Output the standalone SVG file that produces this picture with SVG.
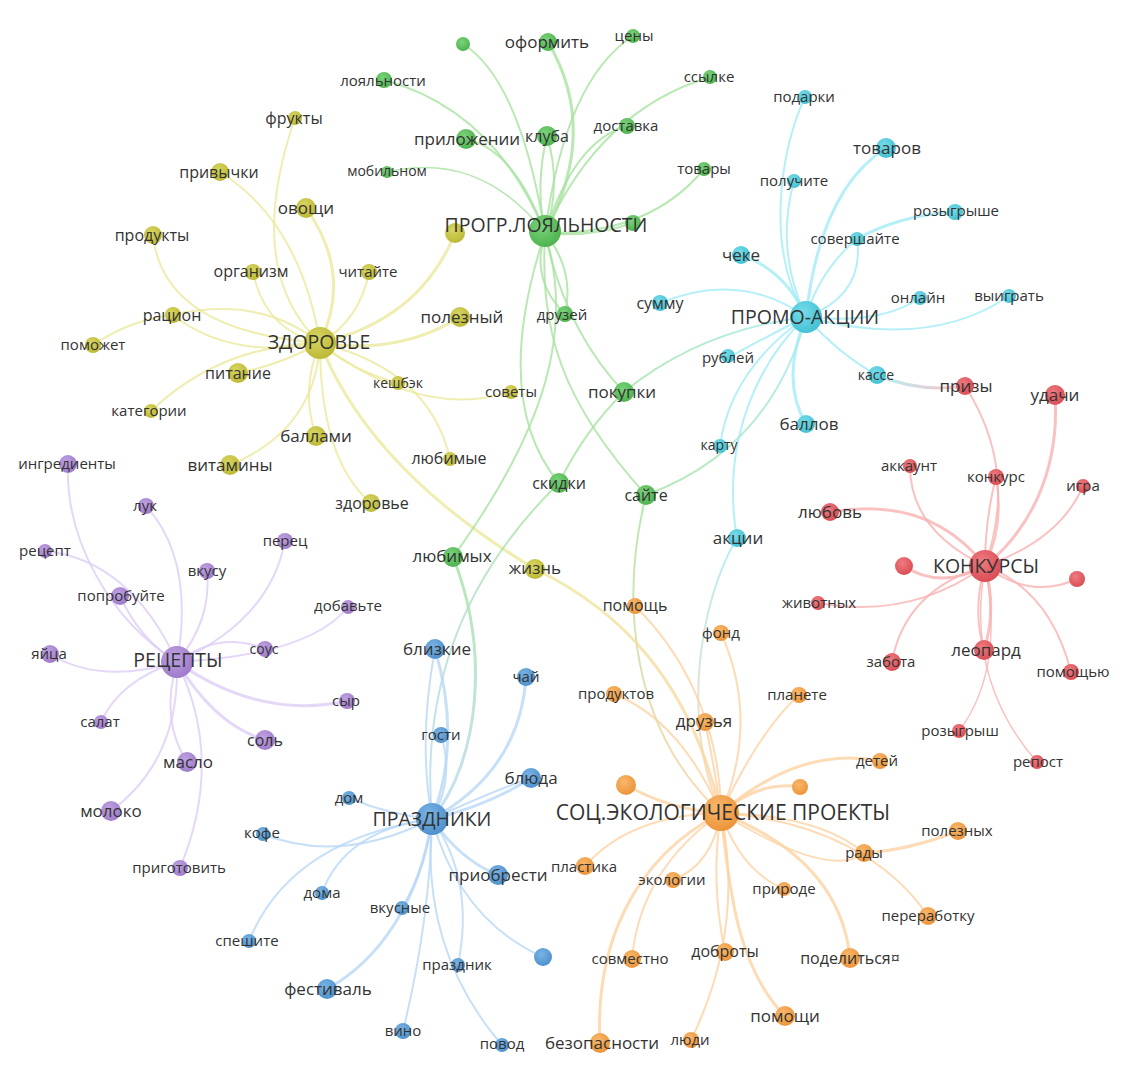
<svg xmlns="http://www.w3.org/2000/svg" width="1134" height="1070" viewBox="0 0 1134 1070">
<style>
text{font-family:"Open Sans","Noto Sans","Liberation Sans",sans-serif;fill:#333;text-anchor:middle}
.f14{font-size:14px}.f15{font-size:15px}.f16{font-size:16px}.f17{font-size:17px}.f20{font-size:19.5px}.f21{font-size:21px}
path{fill:none;stroke-width:2;stroke-opacity:.8;stroke-linecap:round}
.eg{stroke:#a8e2a0}.ey{stroke:#ebe89c}.ec{stroke:#a3ebf5}.er{stroke:#f9b2b2}.ep{stroke:#dfcdf6}.eb{stroke:#b9d8f6}.eo{stroke:#fdd2a2}
.w3{stroke-width:3}.w1{stroke-width:1.5}
.g{fill:url(#rg)}.y{fill:url(#ry)}.c{fill:url(#rc)}.r{fill:url(#rr)}.p{fill:url(#rp)}.b{fill:url(#rb)}.o{fill:url(#ro)}
</style>
<defs>
<radialGradient id="rg" cx="40%" cy="35%" r="70%"><stop offset="0" stop-color="#7ad27a"/><stop offset="1" stop-color="#4cb24c"/></radialGradient>
<radialGradient id="ry" cx="40%" cy="35%" r="70%"><stop offset="0" stop-color="#d8d562"/><stop offset="1" stop-color="#bbb733"/></radialGradient>
<radialGradient id="rc" cx="40%" cy="35%" r="70%"><stop offset="0" stop-color="#76dbe8"/><stop offset="1" stop-color="#40c0d3"/></radialGradient>
<radialGradient id="rr" cx="40%" cy="35%" r="70%"><stop offset="0" stop-color="#ee7b80"/><stop offset="1" stop-color="#d94a52"/></radialGradient>
<radialGradient id="rp" cx="40%" cy="35%" r="70%"><stop offset="0" stop-color="#bfa2e2"/><stop offset="1" stop-color="#9d78c8"/></radialGradient>
<radialGradient id="rb" cx="40%" cy="35%" r="70%"><stop offset="0" stop-color="#7ab3e4"/><stop offset="1" stop-color="#4a8fcc"/></radialGradient>
<radialGradient id="ro" cx="40%" cy="35%" r="70%"><stop offset="0" stop-color="#f8b86c"/><stop offset="1" stop-color="#ec9236"/></radialGradient>
<linearGradient id="x1" gradientUnits="userSpaceOnUse" x1="624" y1="392" x2="806" y2="317"><stop offset="0" stop-color="#a8e2a0"/><stop offset="1" stop-color="#a3ebf5"/></linearGradient>
<linearGradient id="x2" gradientUnits="userSpaceOnUse" x1="646" y1="495" x2="806" y2="317"><stop offset="0" stop-color="#a8e2a0"/><stop offset="1" stop-color="#a3ebf5"/></linearGradient>
<linearGradient id="x3" gradientUnits="userSpaceOnUse" x1="453" y1="557" x2="432" y2="819"><stop offset="0" stop-color="#a8e2a0"/><stop offset="1" stop-color="#b9d8f6"/></linearGradient>
<linearGradient id="x4" gradientUnits="userSpaceOnUse" x1="559" y1="483" x2="432" y2="819"><stop offset="0" stop-color="#a8e2a0"/><stop offset="1" stop-color="#b9d8f6"/></linearGradient>
<linearGradient id="x5" gradientUnits="userSpaceOnUse" x1="646" y1="495" x2="721" y2="813"><stop offset="0" stop-color="#a8e2a0"/><stop offset="1" stop-color="#fdd2a2"/></linearGradient>
<linearGradient id="x6" gradientUnits="userSpaceOnUse" x1="737" y1="538" x2="721" y2="813"><stop offset="0" stop-color="#a3ebf5"/><stop offset="1" stop-color="#fdd2a2"/></linearGradient>
<linearGradient id="x7" gradientUnits="userSpaceOnUse" x1="535" y1="569" x2="721" y2="813"><stop offset="0" stop-color="#ebe89c"/><stop offset="1" stop-color="#fdd2a2"/></linearGradient>
<linearGradient id="x8" gradientUnits="userSpaceOnUse" x1="877" y1="375" x2="965" y2="386"><stop offset="0" stop-color="#a3ebf5"/><stop offset="1" stop-color="#f9b2b2"/></linearGradient>
</defs>
<rect width="1134" height="1070" fill="#fff"/>
<g id="connectors">
<!-- yellow -->
<path class="ey" d="M295,118 Q243,270 320,343"/>
<path class="ey" d="M220,172 Q300,222 320,343"/>
<path class="ey w3" d="M306,208 Q353,274 320,343"/>
<path class="ey" d="M153,235 Q163,331 320,343"/>
<path class="ey" d="M253,272 Q265,330 320,343"/>
<path class="ey" d="M369,272 Q360,320 320,343"/>
<path class="ey" d="M173,315 Q260,295 320,343"/>
<path class="ey" d="M173,315 Q230,360 320,343"/>
<path class="ey" d="M93,345 Q130,320 173,315"/>
<path class="ey w3" d="M455,233 Q420,320 320,343"/>
<path class="ey w3" d="M460,317 Q400,355 320,343"/>
<path class="ey" d="M238,373 Q280,365 320,343"/>
<path class="ey" d="M398,383 Q350,370 320,343"/>
<path class="ey" d="M320,343 Q420,420 511,392"/>
<path class="ey" d="M320,343 Q430,370 450,459"/>
<path class="ey" d="M320,343 Q320,460 371,503"/>
<path class="ey" d="M320,343 Q300,390 316,436"/>
<path class="ey" d="M320,343 Q315,430 230,465"/>
<path class="ey" d="M320,343 Q220,345 151,411"/>
<path class="ey w3" d="M320,343 Q370,470 535,569"/>
<!-- green -->
<path class="eg" d="M463,44 Q520,80 545,233"/>
<path class="eg w3" d="M548,42 Q600,130 545,233"/>
<path class="eg" d="M633,36 Q565,80 545,233"/>
<path class="eg" d="M384,80 Q495,110 545,233"/>
<path class="eg" d="M710,77 Q600,110 545,233"/>
<path class="eg" d="M627,126 Q575,140 545,233"/>
<path class="eg" d="M466,139 Q515,150 545,233"/>
<path class="eg" d="M547,136 Q535,185 545,233"/>
<path class="eg" d="M547,136 Q562,185 545,233"/>
<path class="eg w1" d="M387,172 Q480,150 545,233"/>
<path class="eg" d="M704,169 Q650,235 545,233"/>
<path class="eg" d="M633,223 Q590,238 545,233"/>
<path class="eg" d="M545,233 Q530,280 565,314"/>
<path class="eg" d="M545,233 Q575,270 565,314"/>
<path class="eg" d="M545,233 Q565,330 624,392"/>
<path class="eg" d="M545,233 Q490,400 559,483"/>
<path class="eg" d="M545,233 C575,330 545,430 453,557"/>
<path class="eg" d="M545,233 C540,330 560,400 646,495"/>
<path class="eg" d="M624,392 Q585,430 559,483"/>
<!-- cross -->
<path stroke="url(#x1)" d="M624,392 Q700,330 806,317"/>
<path stroke="url(#x2)" d="M646,495 Q770,450 806,317"/>
<path stroke="url(#x3)" class="w3" d="M453,557 C490,650 480,760 432,819"/>
<path stroke="url(#x4)" d="M559,483 C470,570 420,680 432,819"/>
<path stroke="url(#x5)" d="M646,495 C620,600 630,730 721,813"/>
<path stroke="url(#x6)" d="M737,538 C700,600 680,720 721,813"/>
<path stroke="url(#x7)" class="w3" d="M535,569 C620,610 690,680 721,813"/>
<path stroke="url(#x8)" class="w3" d="M877,375 Q920,393 965,386"/>
<!-- cyan -->
<path class="ec" d="M805,97 C780,150 765,250 806,317"/>
<path class="ec" d="M794,181 Q775,250 806,317"/>
<path class="ec w3" d="M886,148 Q820,190 806,317"/>
<path class="ec w3" d="M955,212 Q900,215 857,239"/>
<path class="ec" d="M857,239 Q820,270 806,317"/>
<path class="ec" d="M857,239 Q865,295 806,317"/>
<path class="ec" d="M920,298 Q880,325 806,317"/>
<path class="ec" d="M1009,296 Q930,350 806,317"/>
<path class="ec w3" d="M741,255 Q785,270 806,317"/>
<path class="ec" d="M660,303 Q740,270 806,317"/>
<path class="ec" d="M806,317 Q760,340 728,358"/>
<path class="ec" d="M806,317 Q840,355 877,375"/>
<path class="ec w3" d="M806,317 Q780,380 806,424"/>
<path class="ec" d="M806,317 Q730,370 720,446"/>
<path class="ec" d="M806,317 C760,360 720,440 737,538"/>
<!-- red -->
<path class="er" d="M965,386 C1000,440 1008,500 985,566"/>
<path class="er" d="M996,477 Q985,520 985,566"/>
<path class="er" d="M996,477 Q1005,525 985,566"/>
<path class="er w3" d="M1055,395 C1060,470 1030,530 985,566"/>
<path class="er" d="M1083,486 Q1060,540 985,566"/>
<path class="er" d="M910,466 Q910,530 985,566"/>
<path class="er w3" d="M830,512 Q930,495 985,566"/>
<path class="er w3" d="M904,566 Q940,590 985,566"/>
<path class="er" d="M1077,579 Q1030,600 985,566"/>
<path class="er" d="M818,603 Q910,620 985,566"/>
<path class="er" d="M892,662 Q905,590 985,566"/>
<path class="er w3" d="M984,650 Q997,610 985,566"/>
<path class="er" d="M984,650 Q972,610 985,566"/>
<path class="er" d="M1071,672 Q1050,590 985,566"/>
<path class="er w1" d="M985,566 Q1005,670 959,731"/>
<path class="er w1" d="M985,566 Q965,680 1037,762"/>
<!-- purple -->
<path class="ep" d="M68,464 C65,540 110,620 177,662"/>
<path class="ep" d="M146,506 Q195,560 177,662"/>
<path class="ep" d="M45,551 Q130,560 177,662"/>
<path class="ep" d="M120,596 Q140,640 177,662"/>
<path class="ep" d="M207,571 Q212,620 177,662"/>
<path class="ep" d="M285,541 Q270,620 177,662"/>
<path class="ep" d="M348,607 Q310,655 177,662"/>
<path class="ep" d="M265,649 Q220,630 177,662"/>
<path class="ep" d="M50,654 Q100,685 177,662"/>
<path class="ep w3" d="M347,701 Q260,720 177,662"/>
<path class="ep" d="M101,722 Q120,680 177,662"/>
<path class="ep w3" d="M265,740 Q215,725 177,662"/>
<path class="ep" d="M187,762 Q160,720 177,662"/>
<path class="ep" d="M111,811 Q180,760 177,662"/>
<path class="ep" d="M180,868 Q225,760 177,662"/>
<!-- blue -->
<path class="eb" d="M435,649 Q418,740 432,819"/>
<path class="eb w3" d="M435,649 Q462,740 432,819"/>
<path class="eb w3" d="M526,677 Q520,770 432,819"/>
<path class="eb" d="M441,735 Q455,780 432,819"/>
<path class="eb w3" d="M531,778 Q490,805 432,819"/>
<path class="eb" d="M531,778 Q495,790 432,819"/>
<path class="eb" d="M349,798 Q390,815 432,819"/>
<path class="eb" d="M263,834 Q340,865 432,819"/>
<path class="eb" d="M322,893 Q345,830 432,819"/>
<path class="eb" d="M249,941 Q290,840 432,819"/>
<path class="eb" d="M402,908 Q425,870 432,819"/>
<path class="eb w3" d="M327,989 C380,960 420,900 432,819"/>
<path class="eb w3" d="M498,875 Q460,860 432,819"/>
<path class="eb" d="M543,957 Q460,920 432,819"/>
<path class="eb" d="M458,965 Q475,880 432,819"/>
<path class="eb" d="M403,1031 Q430,920 432,819"/>
<path class="eb" d="M502,1045 Q420,950 432,819"/>
<!-- orange -->
<path class="eo" d="M635,606 C680,650 720,720 721,813"/>
<path class="eo" d="M721,633 Q760,720 721,813"/>
<path class="eo" d="M614,694 Q680,720 721,813"/>
<path class="eo" d="M799,695 Q760,730 721,813"/>
<path class="eo" d="M705,722 Q715,770 721,813"/>
<path class="eo w3" d="M880,761 Q800,745 721,813"/>
<path class="eo w3" d="M800,787 Q760,780 721,813"/>
<path class="eo w3" d="M626,785 Q670,810 721,813"/>
<path class="eo" d="M721,813 Q830,880 864,853"/>
<path class="eo" d="M721,813 Q820,815 864,853"/>
<path class="eo w3" d="M864,853 Q910,850 958,831"/>
<path class="eo" d="M721,813 C820,820 890,860 928,916"/>
<path class="eo w3" d="M721,813 Q840,860 850,958"/>
<path class="eo" d="M721,813 Q740,870 784,889"/>
<path class="eo w3" d="M721,813 C730,900 740,970 785,1016"/>
<path class="eo" d="M721,813 Q710,880 725,952"/>
<path class="eo" d="M721,813 Q745,930 691,1040"/>
<path class="eo w3" d="M600,1043 C595,950 630,860 721,813"/>
<path class="eo" d="M632,959 Q640,870 721,813"/>
<path class="eo" d="M673,880 Q712,865 721,813"/>
<path class="eo" d="M585,866 Q630,815 721,813"/>
</g>
<!-- unlabeled nodes -->
<g id="n-g-dot1"><circle class="g" cx="463" cy="44" r="7"/></g>
<g id="n-g-dot2"><circle class="g" cx="633" cy="223" r="8"/></g>
<g id="n-y-dot1"><circle class="y" cx="455" cy="233" r="10"/></g>
<g id="n-r-dot1"><circle class="r" cx="904" cy="566" r="9"/></g>
<g id="n-r-dot2"><circle class="r" cx="1077" cy="579" r="8"/></g>
<g id="n-b-dot1"><circle class="b" cx="543" cy="957" r="9"/></g>
<g id="n-o-dot1"><circle class="o" cx="626" cy="785" r="10"/></g>
<g id="n-o-dot2"><circle class="o" cx="800" cy="787" r="8"/></g>
<!-- green -->
<g id="n-oformit"><circle class="g" cx="548" cy="42" r="9"/><text class="f17" x="547" y="48">оформить</text></g>
<g id="n-ceny"><circle class="g" cx="633" cy="36" r="7"/><text class="f15" x="634" y="41">цены</text></g>
<g id="n-loyalnosti"><circle class="g" cx="384" cy="80" r="8"/><text class="f15" x="383" y="86">лояльности</text></g>
<g id="n-ssylke"><circle class="g" cx="710" cy="77" r="7"/><text class="f15" x="709" y="82">ссылке</text></g>
<g id="n-prilozhenii"><circle class="g" cx="466" cy="139" r="10"/><text class="f17" x="467" y="145">приложении</text></g>
<g id="n-kluba"><circle class="g" cx="547" cy="136" r="10"/><text class="f16" x="547" y="142">клуба</text></g>
<g id="n-dostavka"><circle class="g" cx="627" cy="126" r="8"/><text class="f15" x="626" y="131">доставка</text></g>
<g id="n-mobilnom"><circle class="g" cx="387" cy="172" r="6"/><text class="f14" x="387" y="176">мобильном</text></g>
<g id="n-tovary"><circle class="g" cx="704" cy="169" r="7"/><text class="f15" x="704" y="174">товары</text></g>
<g id="n-druzey"><circle class="g" cx="565" cy="314" r="8"/><text class="f15" x="562" y="320">друзей</text></g>
<g id="n-pokupki"><circle class="g" cx="624" cy="392" r="10"/><text class="f17" x="622" y="398">покупки</text></g>
<g id="n-skidki"><circle class="g" cx="559" cy="483" r="10"/><text class="f16" x="559" y="489">скидки</text></g>
<g id="n-sayte"><circle class="g" cx="646" cy="495" r="10"/><text class="f16" x="646" y="501">сайте</text></g>
<g id="n-lyubimyh"><circle class="g" cx="453" cy="557" r="10"/><text class="f17" x="452" y="562">любимых</text></g>
<g id="n-progr"><circle class="g" cx="545" cy="231" r="16"/><text class="f20" x="546" y="232">ПРОГР.ЛОЯЛЬНОСТИ</text></g>
<!-- yellow -->
<g id="n-frukty"><circle class="y" cx="295" cy="118" r="7"/><text class="f16" x="294" y="124">фрукты</text></g>
<g id="n-privychki"><circle class="y" cx="220" cy="172" r="9"/><text class="f16" x="219" y="178">привычки</text></g>
<g id="n-ovoshchi"><circle class="y" cx="306" cy="208" r="10"/><text class="f17" x="306" y="214">овощи</text></g>
<g id="n-produkty"><circle class="y" cx="153" cy="235" r="9"/><text class="f16" x="152" y="241">продукты</text></g>
<g id="n-organizm"><circle class="y" cx="253" cy="272" r="8"/><text class="f16" x="251" y="277">организм</text></g>
<g id="n-chitayte"><circle class="y" cx="369" cy="272" r="8"/><text class="f15" x="368" y="277">читайте</text></g>
<g id="n-racion"><circle class="y" cx="173" cy="315" r="8"/><text class="f16" x="172" y="321">рацион</text></g>
<g id="n-pomozhet"><circle class="y" cx="93" cy="345" r="8"/><text class="f15" x="93" y="350">поможет</text></g>
<g id="n-polezny"><circle class="y" cx="460" cy="317" r="10"/><text class="f17" x="462" y="323">полезный</text></g>
<g id="n-pitanie"><circle class="y" cx="238" cy="373" r="10"/><text class="f16" x="238" y="379">питание</text></g>
<g id="n-keshbek"><circle class="y" cx="398" cy="383" r="7"/><text class="f14" x="398" y="388">кешбэк</text></g>
<g id="n-sovety"><circle class="y" cx="511" cy="392" r="7"/><text class="f15" x="511" y="397">советы</text></g>
<g id="n-kategorii"><circle class="y" cx="151" cy="411" r="7"/><text class="f15" x="149" y="416">категории</text></g>
<g id="n-ballami"><circle class="y" cx="316" cy="436" r="10"/><text class="f17" x="316" y="442">баллами</text></g>
<g id="n-lyubimye"><circle class="y" cx="450" cy="459" r="7"/><text class="f16" x="449" y="464">любимые</text></g>
<g id="n-vitaminy"><circle class="y" cx="230" cy="465" r="10"/><text class="f17" x="230" y="471">витамины</text></g>
<g id="n-zdorovye-s"><circle class="y" cx="371" cy="503" r="9"/><text class="f16" x="372" y="509">здоровье</text></g>
<g id="n-zhizn"><circle class="y" cx="535" cy="569" r="10"/><text class="f17" x="535" y="574">жизнь</text></g>
<g id="n-zdorovye"><circle class="y" cx="320" cy="343" r="16"/><text class="f20" x="319" y="349">ЗДОРОВЬЕ</text></g>
<!-- cyan -->
<g id="n-podarki"><circle class="c" cx="805" cy="97" r="7"/><text class="f15" x="804" y="102">подарки</text></g>
<g id="n-tovarov"><circle class="c" cx="886" cy="148" r="10"/><text class="f17" x="887" y="154">товаров</text></g>
<g id="n-poluchite"><circle class="c" cx="794" cy="181" r="7"/><text class="f15" x="794" y="186">получите</text></g>
<g id="n-rozygryshe"><circle class="c" cx="955" cy="212" r="8"/><text class="f15" x="956" y="216">розыгрыше</text></g>
<g id="n-sovershayte"><circle class="c" cx="857" cy="239" r="7"/><text class="f15" x="855" y="244">совершайте</text></g>
<g id="n-cheke"><circle class="c" cx="741" cy="255" r="9"/><text class="f17" x="741" y="261">чеке</text></g>
<g id="n-onlayn"><circle class="c" cx="920" cy="298" r="7"/><text class="f15" x="918" y="303">онлайн</text></g>
<g id="n-vyigrat"><circle class="c" cx="1009" cy="296" r="7"/><text class="f15" x="1009" y="301">выиграть</text></g>
<g id="n-summu"><circle class="c" cx="660" cy="303" r="8"/><text class="f16" x="660" y="309">сумму</text></g>
<g id="n-rubley"><circle class="c" cx="728" cy="356" r="7"/><text class="f15" x="728" y="363">рублей</text></g>
<g id="n-kasse"><circle class="c" cx="877" cy="375" r="9"/><text class="f14" x="876" y="380">кассе</text></g>
<g id="n-ballov"><circle class="c" cx="806" cy="424" r="9"/><text class="f17" x="809" y="430">баллов</text></g>
<g id="n-kartu"><circle class="c" cx="720" cy="446" r="7"/><text class="f14" x="719" y="450">карту</text></g>
<g id="n-akcii"><circle class="c" cx="737" cy="538" r="9"/><text class="f17" x="738" y="544">акции</text></g>
<g id="n-promo"><circle class="c" cx="806" cy="317" r="16"/><text class="f20" x="805" y="324">ПРОМО-АКЦИИ</text></g>
<!-- red -->
<g id="n-prizy"><circle class="r" cx="965" cy="386" r="9"/><text class="f17" x="966" y="392">призы</text></g>
<g id="n-udachi"><circle class="r" cx="1055" cy="395" r="10"/><text class="f17" x="1055" y="401">удачи</text></g>
<g id="n-akkaunt"><circle class="r" cx="910" cy="466" r="7"/><text class="f15" x="909" y="471">аккаунт</text></g>
<g id="n-konkurs"><circle class="r" cx="996" cy="477" r="8"/><text class="f15" x="996" y="482">конкурс</text></g>
<g id="n-igra"><circle class="r" cx="1083" cy="486" r="7"/><text class="f15" x="1083" y="491">игра</text></g>
<g id="n-lyubov"><circle class="r" cx="830" cy="512" r="9"/><text class="f17" x="830" y="518">любовь</text></g>
<g id="n-zhivotnyh"><circle class="r" cx="818" cy="603" r="7"/><text class="f15" x="819" y="608">животных</text></g>
<g id="n-leopard"><circle class="r" cx="984" cy="650" r="10"/><text class="f17" x="986" y="656">леопард</text></g>
<g id="n-zabota"><circle class="r" cx="892" cy="662" r="9"/><text class="f15" x="891" y="667">забота</text></g>
<g id="n-pomoshchyu"><circle class="r" cx="1071" cy="672" r="8"/><text class="f15" x="1073" y="677">помощью</text></g>
<g id="n-rozygrysh"><circle class="r" cx="959" cy="731" r="7"/><text class="f15" x="960" y="736">розыгрыш</text></g>
<g id="n-repost"><circle class="r" cx="1037" cy="762" r="7"/><text class="f15" x="1038" y="767">репост</text></g>
<g id="n-konkursy"><circle class="r" cx="985" cy="566" r="16"/><text class="f20" x="986" y="573">КОНКУРСЫ</text></g>
<!-- purple -->
<g id="n-ingredienty"><circle class="p" cx="68" cy="464" r="9"/><text class="f15" x="67" y="469">ингредиенты</text></g>
<g id="n-luk"><circle class="p" cx="146" cy="506" r="8"/><text class="f15" x="145" y="511">лук</text></g>
<g id="n-recept"><circle class="p" cx="45" cy="551" r="7"/><text class="f15" x="45" y="556">рецепт</text></g>
<g id="n-perec"><circle class="p" cx="285" cy="541" r="8"/><text class="f15" x="285" y="546">перец</text></g>
<g id="n-vkusu"><circle class="p" cx="207" cy="571" r="8"/><text class="f15" x="207" y="576">вкусу</text></g>
<g id="n-poprobuyte"><circle class="p" cx="120" cy="596" r="9"/><text class="f15" x="121" y="601">попробуйте</text></g>
<g id="n-dobavte"><circle class="p" cx="348" cy="607" r="7"/><text class="f15" x="348" y="611">добавьте</text></g>
<g id="n-sous"><circle class="p" cx="265" cy="649" r="8"/><text class="f14" x="264" y="654">соус</text></g>
<g id="n-yayca"><circle class="p" cx="50" cy="654" r="9"/><text class="f15" x="49" y="659">яйца</text></g>
<g id="n-syr"><circle class="p" cx="347" cy="701" r="8"/><text class="f15" x="346" y="706">сыр</text></g>
<g id="n-salat"><circle class="p" cx="101" cy="722" r="7"/><text class="f15" x="100" y="727">салат</text></g>
<g id="n-sol"><circle class="p" cx="265" cy="740" r="10"/><text class="f16" x="265" y="746">соль</text></g>
<g id="n-maslo"><circle class="p" cx="187" cy="762" r="10"/><text class="f17" x="188" y="768">масло</text></g>
<g id="n-moloko"><circle class="p" cx="111" cy="811" r="10"/><text class="f17" x="111" y="817">молоко</text></g>
<g id="n-prigotovit"><circle class="p" cx="180" cy="868" r="8"/><text class="f15" x="179" y="873">приготовить</text></g>
<g id="n-recepty"><circle class="p" cx="177" cy="662" r="16"/><text class="f20" x="178" y="667">РЕЦЕПТЫ</text></g>
<!-- blue -->
<g id="n-blizkie"><circle class="b" cx="435" cy="649" r="10"/><text class="f17" x="437" y="655">близкие</text></g>
<g id="n-chay"><circle class="b" cx="526" cy="677" r="9"/><text class="f15" x="526" y="682">чай</text></g>
<g id="n-gosti"><circle class="b" cx="441" cy="735" r="8"/><text class="f15" x="441" y="740">гости</text></g>
<g id="n-blyuda"><circle class="b" cx="531" cy="778" r="10"/><text class="f17" x="531" y="784">блюда</text></g>
<g id="n-dom"><circle class="b" cx="349" cy="798" r="7"/><text class="f15" x="349" y="803">дом</text></g>
<g id="n-kofe"><circle class="b" cx="263" cy="834" r="7"/><text class="f15" x="262" y="838">кофе</text></g>
<g id="n-priobresti"><circle class="b" cx="498" cy="875" r="10"/><text class="f17" x="498" y="881">приобрести</text></g>
<g id="n-doma"><circle class="b" cx="322" cy="893" r="7"/><text class="f15" x="322" y="898">дома</text></g>
<g id="n-vkusnye"><circle class="b" cx="402" cy="908" r="7"/><text class="f15" x="400" y="913">вкусные</text></g>
<g id="n-speshite"><circle class="b" cx="249" cy="941" r="7"/><text class="f15" x="247" y="946">спешите</text></g>
<g id="n-prazdnik"><circle class="b" cx="458" cy="965" r="7"/><text class="f15" x="457" y="970">праздник</text></g>
<g id="n-festival"><circle class="b" cx="327" cy="989" r="10"/><text class="f17" x="328" y="995">фестиваль</text></g>
<g id="n-vino"><circle class="b" cx="403" cy="1031" r="8"/><text class="f15" x="403" y="1036">вино</text></g>
<g id="n-povod"><circle class="b" cx="502" cy="1045" r="7"/><text class="f15" x="502" y="1049">повод</text></g>
<g id="n-prazdniki"><circle class="b" cx="432" cy="819" r="16"/><text class="f20" x="432" y="826">ПРАЗДНИКИ</text></g>
<!-- orange -->
<g id="n-pomoshch"><circle class="o" cx="635" cy="606" r="8"/><text class="f16" x="635" y="611">помощь</text></g>
<g id="n-fond"><circle class="o" cx="721" cy="633" r="8"/><text class="f15" x="721" y="638">фонд</text></g>
<g id="n-produktov"><circle class="o" cx="614" cy="694" r="8"/><text class="f15" x="616" y="699">продуктов</text></g>
<g id="n-planete"><circle class="o" cx="799" cy="695" r="8"/><text class="f15" x="797" y="700">планете</text></g>
<g id="n-druzya"><circle class="o" cx="705" cy="722" r="9"/><text class="f17" x="704" y="727">друзья</text></g>
<g id="n-detey"><circle class="o" cx="880" cy="761" r="8"/><text class="f15" x="877" y="766">детей</text></g>
<g id="n-poleznyh"><circle class="o" cx="958" cy="831" r="9"/><text class="f15" x="957" y="836">полезных</text></g>
<g id="n-rady"><circle class="o" cx="864" cy="853" r="9"/><text class="f15" x="864" y="858">рады</text></g>
<g id="n-plastika"><circle class="o" cx="585" cy="866" r="9"/><text class="f15" x="584" y="872">пластика</text></g>
<g id="n-ekologii"><circle class="o" cx="673" cy="880" r="8"/><text class="f15" x="672" y="885">экологии</text></g>
<g id="n-prirode"><circle class="o" cx="784" cy="889" r="7"/><text class="f15" x="784" y="894">природе</text></g>
<g id="n-pererabotku"><circle class="o" cx="928" cy="916" r="9"/><text class="f15" x="928" y="921">переработку</text></g>
<g id="n-sovmestno"><circle class="o" cx="632" cy="959" r="9"/><text class="f15" x="630" y="964">совместно</text></g>
<g id="n-dobroty"><circle class="o" cx="725" cy="952" r="9"/><text class="f16" x="725" y="957">доброты</text></g>
<g id="n-podelitsya"><circle class="o" cx="850" cy="958" r="10"/><text class="f16" x="850" y="964">поделиться¤</text></g>
<g id="n-pomoshchi"><circle class="o" cx="785" cy="1016" r="10"/><text class="f17" x="785" y="1022">помощи</text></g>
<g id="n-bezopasnosti"><circle class="o" cx="600" cy="1043" r="10"/><text class="f17" x="602" y="1049">безопасности</text></g>
<g id="n-lyudi"><circle class="o" cx="691" cy="1040" r="8"/><text class="f15" x="690" y="1045">люди</text></g>
<g id="n-soceco"><circle class="o" cx="721" cy="813" r="18"/><text class="f21" x="723" y="820">СОЦ.ЭКОЛОГИЧЕСКИЕ ПРОЕКТЫ</text></g>
</svg>
